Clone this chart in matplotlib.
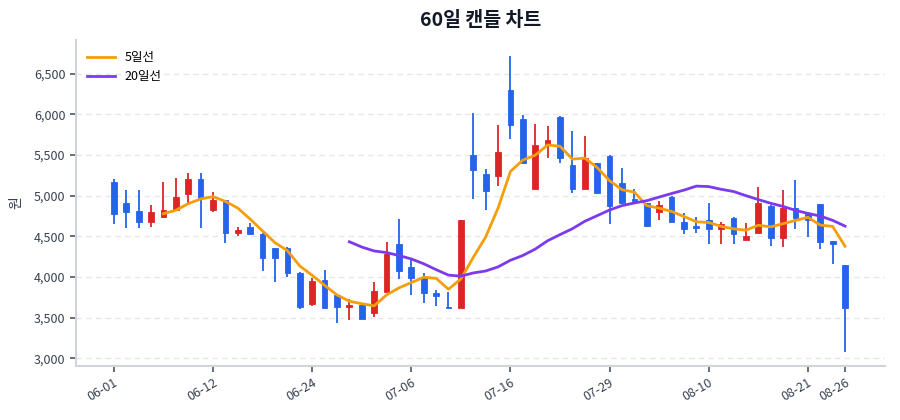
import numpy as np
import pandas as pd
import matplotlib
matplotlib.use("Agg")
import matplotlib.pyplot as plt
from matplotlib.ticker import FuncFormatter

plt.rcParams['font.family'] = ['Noto Sans CJK KR', 'DejaVu Sans']

dates = ['06-01', '06-02', '06-03', '06-05', '06-06', '06-08', '06-09', '06-10',
         '06-12', '06-13', '06-15', '06-16', '06-17', '06-19', '06-20', '06-22',
         '06-24', '06-25', '06-26', '06-28', '06-29', '07-01', '07-02', '07-04',
         '07-06', '07-07', '07-08', '07-09', '07-10', '07-12', '07-13', '07-14',
         '07-16', '07-17', '07-19', '07-20', '07-22', '07-23', '07-25', '07-27',
         '07-29', '07-30', '07-31', '08-02', '08-03', '08-05', '08-06', '08-08',
         '08-10', '08-11', '08-12', '08-14', '08-15', '08-16', '08-17', '08-19',
         '08-21', '08-22', '08-24', '08-26']

opens = [5172, 4914, 4811, 4680, 4742, 4824, 5016, 5205, 4824, 4947,
         4537, 4619, 4529, 4352, 4360, 4053, 3668, 3963, 3778, 3631,
         3660, 3557, 3815, 4410, 4116, 3981, 3808, 3630, 3623, 5501,
         5267, 5242, 6303, 5941, 5078, 5625, 5972, 5377, 5082, 5398,
         5492, 5152, 4963, 4906, 4803, 4988, 4676, 4627, 4701, 4594,
         4729, 4455, 4545, 4877, 4483, 4852, 4775, 4893, 4442, 4147]
highs = [5201, 5066, 5074, 4881, 5164, 5213, 5283, 5283, 5045, 4950,
         4619, 4668, 4535, 4356, 4373, 4055, 3987, 4086, 3780, 3725,
         3662, 3938, 4430, 4709, 4215, 4051, 3845, 3812, 4700, 6015,
         5329, 5863, 6722, 5995, 5884, 5851, 5975, 5795, 5738, 5406,
         5495, 5344, 5082, 4908, 4939, 4996, 4783, 4742, 4914, 4680,
         4731, 4660, 5103, 4879, 5066, 5193, 4795, 4895, 4445, 4150]
lows = [4651, 4598, 4598, 4619, 4721, 4816, 4906, 4606, 4803, 4414,
        4504, 4529, 4074, 3938, 3996, 3605, 3643, 3618, 3428, 3467,
        3479, 3508, 3815, 3971, 3783, 3681, 3640, 3615, 3623, 4955,
        4823, 5123, 5699, 5399, 5078, 5460, 5398, 5029, 5082, 5029,
        4647, 4906, 4898, 4619, 4701, 4676, 4529, 4545, 4406, 4406,
        4406, 4455, 4545, 4385, 4373, 4594, 4496, 4344, 4160, 3081]
closes = [4775, 4799, 4680, 4803, 4828, 4988, 5205, 4967, 4947, 4537,
          4574, 4529, 4237, 4229, 4045, 3635, 3955, 3622, 3635, 3660,
          3479, 3828, 4287, 4070, 3989, 3804, 3763, 3618, 4700, 5316,
          5058, 5538, 5871, 5399, 5617, 5686, 5459, 5082, 5459, 5037,
          4877, 4906, 4934, 4627, 4885, 4676, 4594, 4606, 4586, 4647,
          4524, 4508, 4914, 4483, 4844, 4721, 4705, 4434, 4401, 3622]

df = pd.DataFrame({'date': dates, 'open': opens, 'high': highs,
                   'low': lows, 'close': closes})
df['ma5'] = df['close'].rolling(5).mean()
df['ma20'] = df['close'].rolling(20).mean()

up_color = '#dc2626'
down_color = '#2563eb'

fig = plt.figure(figsize=(9, 4.2), dpi=100)
ax = fig.add_axes([0.0844, 0.1286, 0.8986, 0.7764])

x = np.arange(len(df))
up = df['close'] >= df['open']
colors = np.where(up, up_color, down_color)
body_low = np.minimum(df['open'], df['close'])
body_h = np.maximum(np.abs(df['close'] - df['open']), 8)

ax.vlines(x, df['low'], df['high'], colors=colors, linewidth=1.3, zorder=2)
ax.bar(x, body_h, bottom=body_low, width=0.46, color=colors,
       edgecolor=colors, linewidth=0.6, zorder=3)

ax.plot(x, df['ma5'], color='#f59e0b', linewidth=2, label='5일선', zorder=4)
ax.plot(x, df['ma20'], color='#7c3aed', linewidth=2, label='20일선', zorder=4)

ax.set_xlim(-3.06, 62.2)
ax.set_ylim(2905, 6914)
ax.set_yticks(range(3000, 7000, 500))
ax.yaxis.set_major_formatter(FuncFormatter(lambda v, p: f'{int(v):,}'))

tick_idx = list(range(0, len(df), 8)) + [len(df) - 1]
ax.set_xticks(tick_idx)
ax.set_xticklabels([dates[i] for i in tick_idx], rotation=30, ha='right',
                   rotation_mode='anchor')

ax.grid(axis='y', linestyle=(0, (4, 3)), color='#e5e7eb', linewidth=1)
ax.set_axisbelow(True)
for s in ['top', 'right']:
    ax.spines[s].set_visible(False)
for s in ['left', 'bottom']:
    ax.spines[s].set_color('#d1d5db')
    ax.spines[s].set_linewidth(1.5)
ax.tick_params(colors='#4b5563', labelsize=9, length=4, width=1.2)
ax.tick_params(axis='both', labelcolor='#374151')

ax.set_ylabel('원', fontsize=10, color='#374151')
ax.yaxis.set_label_coords(-0.065, 0.5)
ax.set_title('60일 캔들 차트', fontsize=14, fontweight='bold',
             color='#111827', pad=10)

ax.legend(loc='upper left', frameon=False, fontsize=9, handlelength=2.2,
          bbox_to_anchor=(0.0, 1.0))

fig.savefig('out.png', dpi=100)
